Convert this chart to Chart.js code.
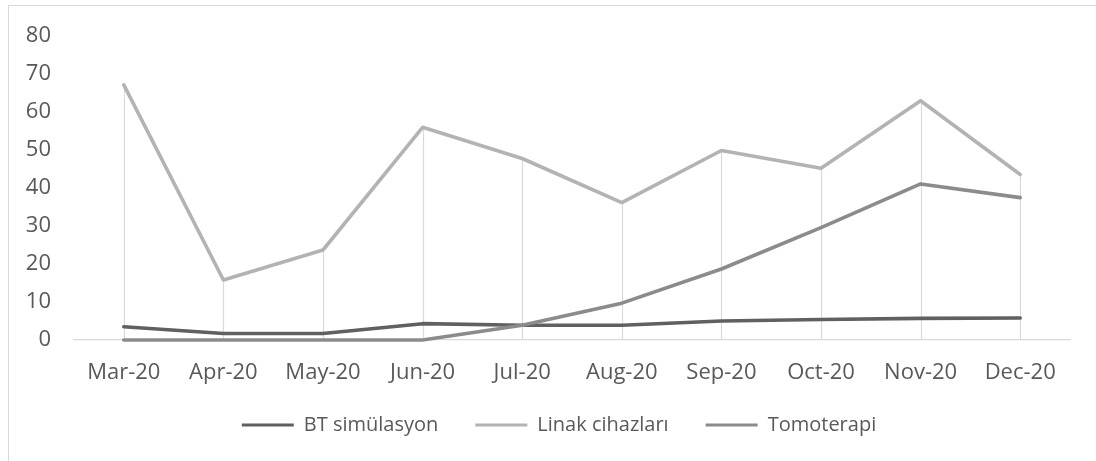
<!DOCTYPE html>
<html>
<head>
<meta charset="utf-8">
<script src="https://cdn.jsdelivr.net/npm/chart.js@4.4.1/dist/chart.umd.min.js"></script>
<style>
  html, body { margin: 0; padding: 0; background: #ffffff; overflow: hidden; }
  #wrap { position: relative; width: 1096px; height: 461px; }
  #frame { position: absolute; left: 8px; top: 5px; width: 1200px; height: 600px; border: 1px solid #d9d9d9; box-sizing: border-box; }
  canvas { position: absolute; left: 0; top: 0; }
</style>
</head>
<body>
<div id="wrap">
  <div id="frame"></div>
  <canvas id="c" width="1096" height="461"></canvas>
</div>
<script>
const categories = ['Mar-20', 'Apr-20', 'May-20', 'Jun-20', 'Jul-20', 'Aug-20', 'Sep-20', 'Oct-20', 'Nov-20', 'Dec-20'];
const btSimulasyon = [3.5, 1.7, 1.7, 4.3, 3.9, 3.9, 5.0, 5.4, 5.7, 5.8];
const linakCihazlari = [67.2, 15.8, 23.7, 56.0, 47.8, 36.2, 49.9, 45.2, 63.0, 43.6];
const tomoterapi = [0, 0, 0, 0, 3.9, 9.7, 18.7, 29.6, 41.1, 37.5];
const seriesNames = ['BT simülasyon', 'Linak cihazları', 'Tomoterapi'];
const yTicks = { min: 0, max: 80, step: 10 };

const textColor = '#595959';
const legendFontSize = 20;
const legendPadding = 37;

const dropLines = {
  id: 'dropLines',
  beforeDatasetsDraw(chart) {
    const ctx = chart.ctx;
    const x = chart.scales.x, y = chart.scales.y;
    ctx.save();
    ctx.strokeStyle = '#d9d9d9';
    ctx.lineWidth = 1.2;
    categories.forEach((c, i) => {
      let maxV = -Infinity;
      chart.data.datasets.forEach(ds => { if (ds.data[i] > maxV) maxV = ds.data[i]; });
      const px = Math.round(x.getPixelForValue(i)) + 0.5;
      ctx.beginPath();
      ctx.moveTo(px, y.getPixelForValue(0));
      ctx.lineTo(px, y.getPixelForValue(maxV));
      ctx.stroke();
    });
    ctx.restore();
  }
};

// place the legend row (centre of text at y=425, shifted 11px right like the original)
const legendPlace = {
  id: 'legendPlace',
  afterLayout(chart) {
    const lg = chart.legend;
    if (!lg) return;
    lg.left += 11; lg.right += 11;
    const top = 425 - (legendPadding + legendFontSize / 2);
    lg.top = top;
    lg.bottom = chart.height;
    lg.height = chart.height - top;
  }
};

const mk = (label, data, color, order) => ({
  label, data,
  borderColor: color, backgroundColor: color,
  borderWidth: 3.6, pointRadius: 0, pointHoverRadius: 0,
  tension: 0, borderJoinStyle: 'round', borderCapStyle: 'round',
  clip: false,
  order
});

new Chart(document.getElementById('c'), {
  type: 'line',
  data: {
    labels: categories,
    datasets: [
      mk(seriesNames[0], btSimulasyon, '#606060', 3),
      mk(seriesNames[1], linakCihazlari, '#b3b3b3', 2),
      mk(seriesNames[2], tomoterapi, '#8b8b8b', 1)
    ]
  },
  options: {
    responsive: false,
    animation: false,
    devicePixelRatio: 1,
    layout: { padding: { left: 26, right: 26, top: 34, bottom: 36 } },
    plugins: {
      tooltip: { enabled: false },
      legend: {
        position: 'bottom',
        align: 'center',
        maxHeight: 40,
        labels: {
          color: textColor,
          font: { family: 'Open Sans', size: legendFontSize },
          boxWidth: 52,
          boxHeight: 3,
          padding: legendPadding,
          sort: (a, b) => a.datasetIndex - b.datasetIndex,
          generateLabels(chart) {
            const items = Chart.defaults.plugins.legend.labels.generateLabels(chart);
            items.forEach(it => { it.lineWidth = 0; });
            return items;
          }
        }
      }
    },
    scales: {
      x: {
        offset: true,
        grid: { display: false, drawTicks: false },
        border: { display: true, color: '#d9d9d9', width: 1.2 },
        ticks: { color: textColor, font: { family: 'Open Sans', size: 22 }, padding: 20, maxRotation: 0, autoSkip: false },
        afterFit(scale) { scale.height = 45; }
      },
      y: {
        min: yTicks.min, max: yTicks.max,
        grid: { display: false, drawTicks: false },
        border: { display: false },
        ticks: { stepSize: yTicks.step, color: textColor, font: { family: 'Open Sans', size: 22 }, padding: 23 },
        afterFit(scale) { scale.width = 48; }
      }
    }
  },
  plugins: [dropLines, legendPlace]
});
</script>
</body>
</html>
